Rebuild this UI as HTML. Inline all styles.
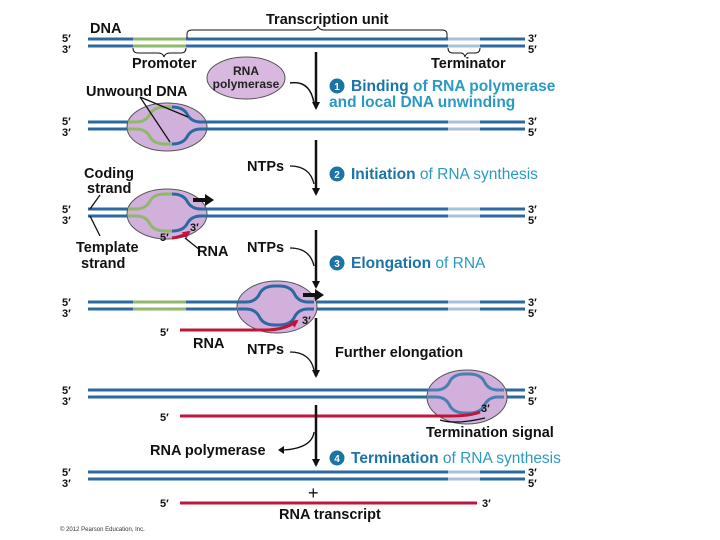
<!DOCTYPE html>
<html><head><meta charset="utf-8"><style>
html,body{margin:0;padding:0;background:#fff;}
svg{display:block;font-family:"Liberation Sans",Arial,sans-serif;}
.k{font-size:14.5px;font-weight:bold;fill:#111;}
.p{font-size:11px;font-weight:bold;fill:#111;}
.b{font-size:15.5px;font-weight:bold;fill:#1c74a6;}
.l{font-size:15.5px;fill:#2a9ac4;font-weight:bold;}
</style></head><body>
<svg width="720" height="540" viewBox="0 0 720 540">
<defs>
<marker id="ah" markerWidth="8" markerHeight="8" refX="6" refY="4" orient="auto" markerUnits="userSpaceOnUse"><path d="M0,0 L8,4 L0,8 z" fill="#111"/></marker>
<marker id="ra" markerWidth="8" markerHeight="8" refX="6" refY="4" orient="auto" markerUnits="userSpaceOnUse"><path d="M0,0 L8,4 L0,8 z" fill="#c0143c"/></marker>
</defs>
<g stroke="#2b69a0" stroke-width="3" fill="none">
<line x1="88" y1="39" x2="525" y2="39"/><line x1="88" y1="46" x2="525" y2="46"/>
<line x1="88" y1="122" x2="525" y2="122"/><line x1="88" y1="129" x2="525" y2="129"/>
<line x1="88" y1="209" x2="525" y2="209"/><line x1="88" y1="216" x2="525" y2="216"/>
<line x1="88" y1="302" x2="525" y2="302"/><line x1="88" y1="309" x2="525" y2="309"/>
<line x1="88" y1="390" x2="525" y2="390"/><line x1="88" y1="397" x2="525" y2="397"/>
<line x1="88" y1="472" x2="525" y2="472"/><line x1="88" y1="479" x2="525" y2="479"/>
</g>
<g stroke="#8fb86a" stroke-width="3"><line x1="133" y1="39" x2="186" y2="39"/><line x1="133" y1="46" x2="186" y2="46"/><line x1="133" y1="302" x2="186" y2="302"/><line x1="133" y1="309" x2="186" y2="309"/></g>
<g stroke="#a8c0d8" stroke-width="3">
<line x1="448" y1="39" x2="480" y2="39"/><line x1="448" y1="46" x2="480" y2="46"/>
<line x1="448" y1="122" x2="480" y2="122"/><line x1="448" y1="129" x2="480" y2="129"/>
<line x1="448" y1="209" x2="480" y2="209"/><line x1="448" y1="216" x2="480" y2="216"/>
<line x1="448" y1="302" x2="480" y2="302"/><line x1="448" y1="309" x2="480" y2="309"/>
<line x1="448" y1="472" x2="480" y2="472"/><line x1="448" y1="479" x2="480" y2="479"/>
</g>
<path d="M133,48 q0,5 5,5 h20 q5,0 6,4 q1,-4 6,-4 h11 q5,0 5,-5" stroke="#111" fill="none" stroke-width="1"/>
<path d="M187,38 v-4 q0,-4 5,-4 h120 q5,0 6,-4 q1,4 6,4 h118 q5,0 5,4 v4" stroke="#111" fill="none" stroke-width="1"/>
<path d="M448,48 q0,5 5,5 h8 q3,0 4,4 q1,-4 4,-4 h6 q5,0 5,-5" stroke="#111" fill="none" stroke-width="1"/>
<ellipse cx="246" cy="78" rx="39" ry="21" fill="#d9b8e0" stroke="#555"/>
<text x="246" y="75" text-anchor="middle" style="font-size:12px;font-weight:bold;fill:#222">RNA</text>
<text x="246" y="88" text-anchor="middle" style="font-size:12px;font-weight:bold;fill:#222">polymerase</text>
<path d="M290,83 q20,-3 24,20" stroke="#111" fill="none" stroke-width="1.5"/>
<g fill="#d2b0dc" stroke="#555">
<ellipse cx="167" cy="127" rx="40" ry="24"/>
<ellipse cx="167" cy="214" rx="40" ry="25"/>
<ellipse cx="277" cy="307" rx="40" ry="26"/>
<ellipse cx="467" cy="397" rx="40" ry="27"/>
</g>
<g fill="none" stroke-width="3">
<path d="M128,122 h8 q10,0 14,-8 q4,-7 15,-7 h7" stroke="#8fb86a"/><path d="M172,107 q11,0 15,7 q4,8 14,8 h6" stroke="#2b69a0"/>
<path d="M128,129 h8 q10,0 14,8 q4,7 15,7 h7" stroke="#8fb86a"/><path d="M172,144 q11,0 15,-7 q4,-8 14,-8 h6" stroke="#2b69a0"/>
<path d="M128,209 h8 q10,0 14,-8 q4,-7 15,-7 h7" stroke="#8fb86a"/><path d="M172,194 q11,0 15,7 q4,8 14,8 h6" stroke="#2b69a0"/>
<path d="M128,216 h8 q10,0 14,8 q4,7 15,7 h7" stroke="#8fb86a"/><path d="M172,231 q11,0 15,-7 q4,-8 14,-8 h6" stroke="#2b69a0"/>
<path d="M238,302 h8 q10,0 14,-9 q4,-7 15,-7 h4 q11,0 15,7 q4,9 14,9 h6" stroke="#2b69a0"/>
<path d="M238,309 h8 q10,0 14,9 q4,7 15,7 h4 q11,0 15,-7 q4,-9 14,-9 h6" stroke="#2b69a0"/>
<path d="M428,390 h8 q10,0 14,-9 q4,-7 15,-7 h4 q11,0 15,7 q4,9 14,9 h6" stroke="#4a7fb0"/>
<path d="M428,397 h8 q10,0 14,9 q4,7 15,7 h4 q11,0 15,-7 q4,-9 14,-9 h6" stroke="#4a7fb0"/>
</g>
<g stroke="#c0143c" stroke-width="3" fill="none">
<path d="M172,238 q10,-1 17,-6" marker-end="url(#ra)"/>
<path d="M180,330 h85 q20,0 32,-9" marker-end="url(#ra)"/>
<path d="M180,416 h270 q20,0 30,-4"/>
<line x1="180" y1="503" x2="477" y2="503"/>
</g>
<g stroke="#111" stroke-width="4"><line x1="193" y1="200" x2="206" y2="200"/><line x1="303" y1="295" x2="316" y2="295"/></g>
<path d="M205,194 L214,200 L205,206z" fill="#111"/><path d="M315,289 L324,295 L315,301z" fill="#111"/>
<g stroke="#111" stroke-width="2.5" fill="none">
<line x1="316" y1="52" x2="316" y2="108" marker-end="url(#ah)"/>
<line x1="316" y1="140" x2="316" y2="194" marker-end="url(#ah)"/>
<line x1="316" y1="230" x2="316" y2="287" marker-end="url(#ah)"/>
<line x1="316" y1="318" x2="316" y2="376" marker-end="url(#ah)"/>
<line x1="316" y1="405" x2="316" y2="465" marker-end="url(#ah)"/>
</g>
<g stroke="#111" stroke-width="1.3" fill="none">
<path d="M290,166 q20,0 24,18"/><path d="M290,248 q20,0 24,18"/><path d="M290,352 q20,0 24,18"/><path d="M314,432 q-2,16 -30,18"/>
<path d="M140,97 l30,45"/><path d="M140,97 l48,20"/>
<path d="M100,195 l-10,14"/><path d="M90,216 l10,20"/>
<path d="M200,250 l-15,-12"/>
<path d="M440,420 q15,5 45,-2"/>
</g>
<path d="M284,446 l-6,4 l6,4z" fill="#111"/>
<g class="p">
<text x="62" y="42">5′</text><text x="62" y="53">3′</text>
<text x="62" y="125">5′</text><text x="62" y="136">3′</text>
<text x="62" y="213">5′</text><text x="62" y="224">3′</text>
<text x="62" y="306">5′</text><text x="62" y="317">3′</text>
<text x="62" y="394">5′</text><text x="62" y="405">3′</text>
<text x="62" y="476">5′</text><text x="62" y="487">3′</text>
<text x="528" y="42">3′</text><text x="528" y="53">5′</text>
<text x="528" y="125">3′</text><text x="528" y="136">5′</text>
<text x="528" y="213">3′</text><text x="528" y="224">5′</text>
<text x="528" y="306">3′</text><text x="528" y="317">5′</text>
<text x="528" y="394">3′</text><text x="528" y="405">5′</text>
<text x="528" y="476">3′</text><text x="528" y="487">5′</text>
<text x="160" y="241">5′</text><text x="190" y="231">3′</text>
<text x="160" y="336">5′</text><text x="302" y="324">3′</text>
<text x="160" y="421">5′</text><text x="481" y="412">3′</text>
<text x="160" y="507">5′</text><text x="482" y="507">3′</text>
</g>
<g class="k">
<text x="90" y="33">DNA</text>
<text x="266" y="24">Transcription unit</text>
<text x="132" y="68">Promoter</text>
<text x="431" y="68">Terminator</text>
<text x="86" y="96">Unwound DNA</text>
<text x="84" y="178">Coding</text><text x="87" y="193">strand</text>
<text x="76" y="252">Template</text><text x="81" y="268">strand</text>
<text x="197" y="256">RNA</text>
<text x="247" y="171">NTPs</text>
<text x="247" y="252">NTPs</text>
<text x="193" y="348">RNA</text>
<text x="247" y="354">NTPs</text>
<text x="335" y="357">Further elongation</text>
<text x="426" y="437">Termination signal</text>
<text x="150" y="455">RNA polymerase</text>
<text x="279" y="519">RNA transcript</text>
</g>
<text x="308" y="499" style="font-size:18px;fill:#111">+</text>
<g>
<circle cx="337" cy="86" r="7.5" fill="#1c74a6"/><text x="337" y="90" text-anchor="middle" style="font-size:10px;font-weight:bold;fill:#fff">1</text>
<text x="351" y="91" class="b">Binding <tspan class="l">of RNA polymerase</tspan></text>
<text x="329" y="107" class="l">and local DNA unwinding</text>
<circle cx="337" cy="174" r="7.5" fill="#1c74a6"/><text x="337" y="178" text-anchor="middle" style="font-size:10px;font-weight:bold;fill:#fff">2</text>
<text x="351" y="179" class="b">Initiation <tspan class="l" style="font-weight:normal">of RNA synthesis</tspan></text>
<circle cx="337" cy="263" r="7.5" fill="#1c74a6"/><text x="337" y="267" text-anchor="middle" style="font-size:10px;font-weight:bold;fill:#fff">3</text>
<text x="351" y="268" class="b">Elongation <tspan class="l" style="font-weight:normal">of RNA</tspan></text>
<circle cx="337" cy="458" r="7.5" fill="#1c74a6"/><text x="337" y="462" text-anchor="middle" style="font-size:10px;font-weight:bold;fill:#fff">4</text>
<text x="351" y="463" class="b">Termination <tspan class="l" style="font-weight:normal">of RNA synthesis</tspan></text>
</g>
<text x="60" y="531" style="font-size:6px;fill:#333">© 2012 Pearson Education, Inc.</text>
</svg>
</body></html>
